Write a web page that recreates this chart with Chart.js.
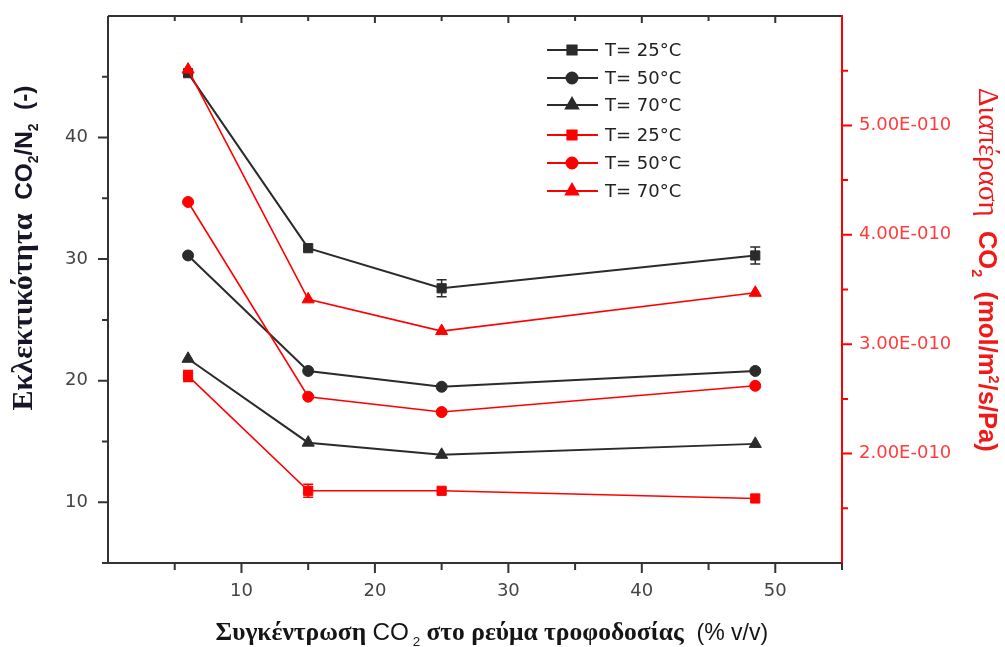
<!DOCTYPE html>
<html>
<head>
<meta charset="utf-8">
<script src="https://cdn.jsdelivr.net/npm/chart.js@4.4.1/dist/chart.umd.min.js"></script>
<style>
  html, body { margin: 0; padding: 0; background: #fff; }
  #wrap { width: 1005px; height: 647px; position: relative; }
</style>
</head>
<body>
<div id="wrap"><canvas id="chart"></canvas></div>
<script>
// CO2 concentration in feed (% v/v)
const concentration = [6, 15, 25, 48.5];

// selectivity CO2/N2 (left axis)
const selectivity25 = [45.3, 30.9, 27.6, 30.3];
const selectivity50 = [30.3, 20.8, 19.5, 20.8];
const selectivity70 = [21.8, 14.9, 13.9, 14.8];
const selectivity25Err = [0, 0, 0.7, 0.7];

// CO2 permeance, mol/m2/s/Pa (right axis)
const permeance25 = [2.71e-10, 1.66e-10, 1.66e-10, 1.59e-10];
const permeance50 = [4.30e-10, 2.52e-10, 2.38e-10, 2.62e-10];
const permeance70 = [5.51e-10, 3.41e-10, 3.12e-10, 3.47e-10];
const permeance25Err = [0.05e-10, 0.06e-10, 0, 0];

const seriesLabels = ['T= 25°C', 'T= 50°C', 'T= 70°C'];

// ticks
const xTicks = [10, 20, 30, 40, 50];
const xMinorTicks = [5, 15, 25, 35, 45, 55];
const leftTicks = [10, 20, 30, 40];
const leftMinorTicks = [5, 15, 25, 35, 45];
const rightTicks = [2e-10, 3e-10, 4e-10, 5e-10];
const rightMinorTicks = [1.5e-10, 2.5e-10, 3.5e-10, 4.5e-10, 5.5e-10];
const rightTickLabels = ['2.00E-010', '3.00E-010', '4.00E-010', '5.00E-010'];

const BLACK = '#2b2b2b';
const RED = '#ff0000';

function points(ys) {
    return concentration.map((x, i) => ({ x: x, y: ys[i] }));
}

function series(label, ys, color, style, radius, axis, order, width, errors) {
    return {
        label: label,
        data: points(ys),
        yAxisID: axis,
        order: order,
        borderColor: color,
        backgroundColor: color,
        borderWidth: width,
        pointStyle: style,
        pointRadius: radius,
        pointBorderWidth: 1,
        pointBackgroundColor: color,
        pointBorderColor: color,
        showLine: true,
        tension: 0,
        errors: errors
    };
}

const datasets = [
    series(seriesLabels[0], selectivity25, BLACK, 'rect', 6.5, 'yL', 2, 2, selectivity25Err),
    series(seriesLabels[1], selectivity50, BLACK, 'circle', 5.5, 'yL', 2, 2),
    series(seriesLabels[2], selectivity70, BLACK, 'triangle', 7, 'yL', 2, 2),
    series(seriesLabels[0], permeance25, RED, 'rect', 6.5, 'yR', 1, 1.6, permeance25Err),
    series(seriesLabels[1], permeance50, RED, 'circle', 5.5, 'yR', 1, 1.6),
    series(seriesLabels[2], permeance70, RED, 'triangle', 7, 'yR', 1, 1.6)
];

// draw rich text (sub/superscripts) centred on (cx, cy), scaled to a given length
function drawRich(ctx, parts, cx, cy, angle, length, color) {
    ctx.save();
    ctx.translate(cx, cy);
    ctx.rotate(angle);
    const font = (p, k) => `${p.weight || 'normal'} ${p.size * k}px ${p.family}`;
    let w = 0;
    parts.forEach(p => { ctx.font = font(p, 1); w += ctx.measureText(p.text).width; });
    const k = length / w;
    let pos = -length / 2;
    ctx.fillStyle = color;
    ctx.textBaseline = 'alphabetic';
    ctx.textAlign = 'left';
    parts.forEach(p => {
        ctx.font = font(p, k);
        ctx.fillText(p.text, pos, (p.dy || 0) * k);
        pos += ctx.measureText(p.text).width;
    });
    ctx.restore();
}

const SERIF = '"Liberation Serif", "Times New Roman", serif';
const SANS = '"Liberation Sans", Arial, sans-serif';

// frame and tick marks
const axisFrame = {
    id: 'axisFrame',
    beforeDatasetsDraw(chart) {
        const { ctx, chartArea: a, scales } = chart;
        const x = scales.x, yL = scales.yL, yR = scales.yR;
        ctx.save();
        ctx.lineWidth = 2;
        ctx.strokeStyle = '#333';
        ctx.beginPath();
        ctx.moveTo(a.left, a.top); ctx.lineTo(a.right, a.top);
        ctx.moveTo(a.left, a.top); ctx.lineTo(a.left, a.bottom);
        ctx.moveTo(a.left, a.bottom); ctx.lineTo(a.right, a.bottom);
        xTicks.forEach(v => {
            const p = x.getPixelForValue(v);
            ctx.moveTo(p, a.bottom); ctx.lineTo(p, a.bottom + 10);
            ctx.moveTo(p, a.top); ctx.lineTo(p, a.top + 7);
        });
        xMinorTicks.forEach(v => {
            const p = x.getPixelForValue(v);
            ctx.moveTo(p, a.bottom); ctx.lineTo(p, a.bottom + 7);
            if (v < 55) { ctx.moveTo(p, a.top); ctx.lineTo(p, a.top + 5); }
        });
        leftTicks.forEach(v => {
            const p = yL.getPixelForValue(v);
            ctx.moveTo(a.left, p); ctx.lineTo(a.left - 10, p);
        });
        leftMinorTicks.forEach(v => {
            const p = yL.getPixelForValue(v);
            ctx.moveTo(a.left, p); ctx.lineTo(a.left - 6, p);
        });
        ctx.stroke();

        ctx.strokeStyle = RED;
        ctx.beginPath();
        ctx.moveTo(a.right, a.top - 1); ctx.lineTo(a.right, a.bottom);
        rightTicks.forEach(v => {
            const p = yR.getPixelForValue(v);
            ctx.moveTo(a.right, p); ctx.lineTo(a.right + 10, p);
        });
        rightMinorTicks.forEach(v => {
            const p = yR.getPixelForValue(v);
            ctx.moveTo(a.right, p); ctx.lineTo(a.right + 6, p);
        });
        ctx.stroke();
        ctx.restore();
    }
};

// vertical error bars
const errorBars = {
    id: 'errorBars',
    afterDatasetsDraw(chart) {
        const ctx = chart.ctx;
        chart.data.datasets.forEach((ds, i) => {
            if (!ds.errors) return;
            const meta = chart.getDatasetMeta(i);
            const yScale = chart.scales[ds.yAxisID];
            ctx.save();
            ctx.strokeStyle = ds.borderColor;
            ctx.lineWidth = 1.5;
            ds.data.forEach((p, j) => {
                const e = ds.errors[j];
                if (!e) return;
                const px = meta.data[j].x;
                const top = yScale.getPixelForValue(p.y + e);
                const bot = yScale.getPixelForValue(p.y - e);
                ctx.beginPath();
                ctx.moveTo(px, top); ctx.lineTo(px, bot);
                ctx.moveTo(px - 5, top); ctx.lineTo(px + 5, top);
                ctx.moveTo(px - 5, bot); ctx.lineTo(px + 5, bot);
                ctx.stroke();
            });
            ctx.restore();
        });
    }
};

// legend inside the plot
const legendRowsY = [50, 78, 105, 135, 163, 191];
const innerLegend = {
    id: 'innerLegend',
    afterDraw(chart) {
        const ctx = chart.ctx;
        ctx.save();
        chart.data.datasets.forEach((ds, i) => {
            const y = legendRowsY[i];
            ctx.strokeStyle = ds.borderColor;
            ctx.lineWidth = 2;
            ctx.beginPath();
            ctx.moveTo(547, y); ctx.lineTo(598, y);
            ctx.stroke();
            ctx.fillStyle = ds.borderColor;
            Chart.helpers.drawPoint(ctx, {
                pointStyle: ds.pointStyle, radius: ds.pointRadius, borderWidth: 1, rotation: 0
            }, 572, y);
            ctx.fillStyle = '#222';
            ctx.font = '18px "DejaVu Sans", sans-serif';
            ctx.textBaseline = 'middle';
            ctx.fillText(ds.label, 605, y + 1);
        });
        ctx.restore();
    }
};

// axis titles
const axisTitles = {
    id: 'axisTitles',
    afterDraw(chart) {
        const ctx = chart.ctx;
        drawRich(ctx, [
            { text: 'Εκλεκτικότητα', family: SERIF, weight: 'bold', size: 26 },
            { text: '  CO', family: SANS, weight: 'bold', size: 21 },
            { text: '2', family: SANS, weight: 'bold', size: 12, dy: 5 },
            { text: '/N', family: SANS, weight: 'bold', size: 21 },
            { text: '2', family: SANS, weight: 'bold', size: 12, dy: 5 },
            { text: '  (-)', family: SANS, weight: 'bold', size: 21 }
        ], 32, 248, -Math.PI / 2, 325, '#161628');

        drawRich(ctx, [
            { text: 'Διαπέραση', family: SERIF, size: 26 },
            { text: '  CO', family: SANS, weight: 'bold', size: 23 },
            { text: '2', family: SANS, weight: 'bold', size: 13, dy: 6 },
            { text: '  (mol/m', family: SANS, weight: 'bold', size: 23 },
            { text: '2', family: SANS, weight: 'bold', size: 13, dy: -9 },
            { text: '/s/Pa)', family: SANS, weight: 'bold', size: 23 }
        ], 979, 270, Math.PI / 2, 364, '#f21818');

        drawRich(ctx, [
            { text: 'Συγκέντρωση ', family: SERIF, weight: 'bold', size: 21 },
            { text: 'CO', family: SANS, size: 20 },
            { text: ' 2', family: SANS, size: 11, dy: 5 },
            { text: ' στο ρεύμα τροφοδοσίας', family: SERIF, weight: 'bold', size: 21 },
            { text: '  (% v/v)', family: SANS, size: 19 }
        ], 492, 640, 0, 553, '#151515');
    }
};

const tickFont = { family: '"DejaVu Sans", sans-serif', size: 18 };

function noVerticalPadding(s) { s.paddingTop = 0; s.paddingBottom = 0; }
function noHorizontalPadding(s) { s.paddingLeft = 0; s.paddingRight = 0; }

new Chart(document.getElementById('chart'), {
    type: 'scatter',
    data: { datasets: datasets },
    options: {
        responsive: true,
        maintainAspectRatio: false,
        animation: false,
        devicePixelRatio: 1,
        layout: { padding: { top: 16, left: 0, right: 0, bottom: 0 } },
        plugins: { legend: { display: false }, tooltip: { enabled: false } },
        scales: {
            x: {
                type: 'linear', position: 'bottom', min: 0, max: 55,
                grid: { display: false, drawTicks: false },
                border: { display: false },
                afterBuildTicks: s => { s.ticks = xTicks.map(v => ({ value: v })); },
                afterFit: s => { s.height = 84; noHorizontalPadding(s); },
                ticks: { font: tickFont, color: '#444', padding: 18, maxRotation: 0, callback: v => String(v) }
            },
            yL: {
                type: 'linear', position: 'left', min: 5, max: 50,
                grid: { display: false, drawTicks: false },
                border: { display: false },
                afterBuildTicks: s => { s.ticks = leftTicks.map(v => ({ value: v })); },
                afterFit: s => { s.width = 108; noVerticalPadding(s); },
                ticks: { font: tickFont, color: '#444', padding: 20, callback: v => String(v) }
            },
            yR: {
                type: 'linear', position: 'right', min: 1e-10, max: 6e-10,
                grid: { display: false, drawTicks: false },
                border: { display: false },
                afterBuildTicks: s => { s.ticks = rightTicks.map(v => ({ value: v })); },
                afterFit: s => { s.width = 163; noVerticalPadding(s); },
                ticks: { font: tickFont, color: '#ff3b3b', padding: 17, callback: (v, i) => rightTickLabels[i] }
            }
        }
    },
    plugins: [axisFrame, errorBars, innerLegend, axisTitles]
});
</script>
</body>
</html>
